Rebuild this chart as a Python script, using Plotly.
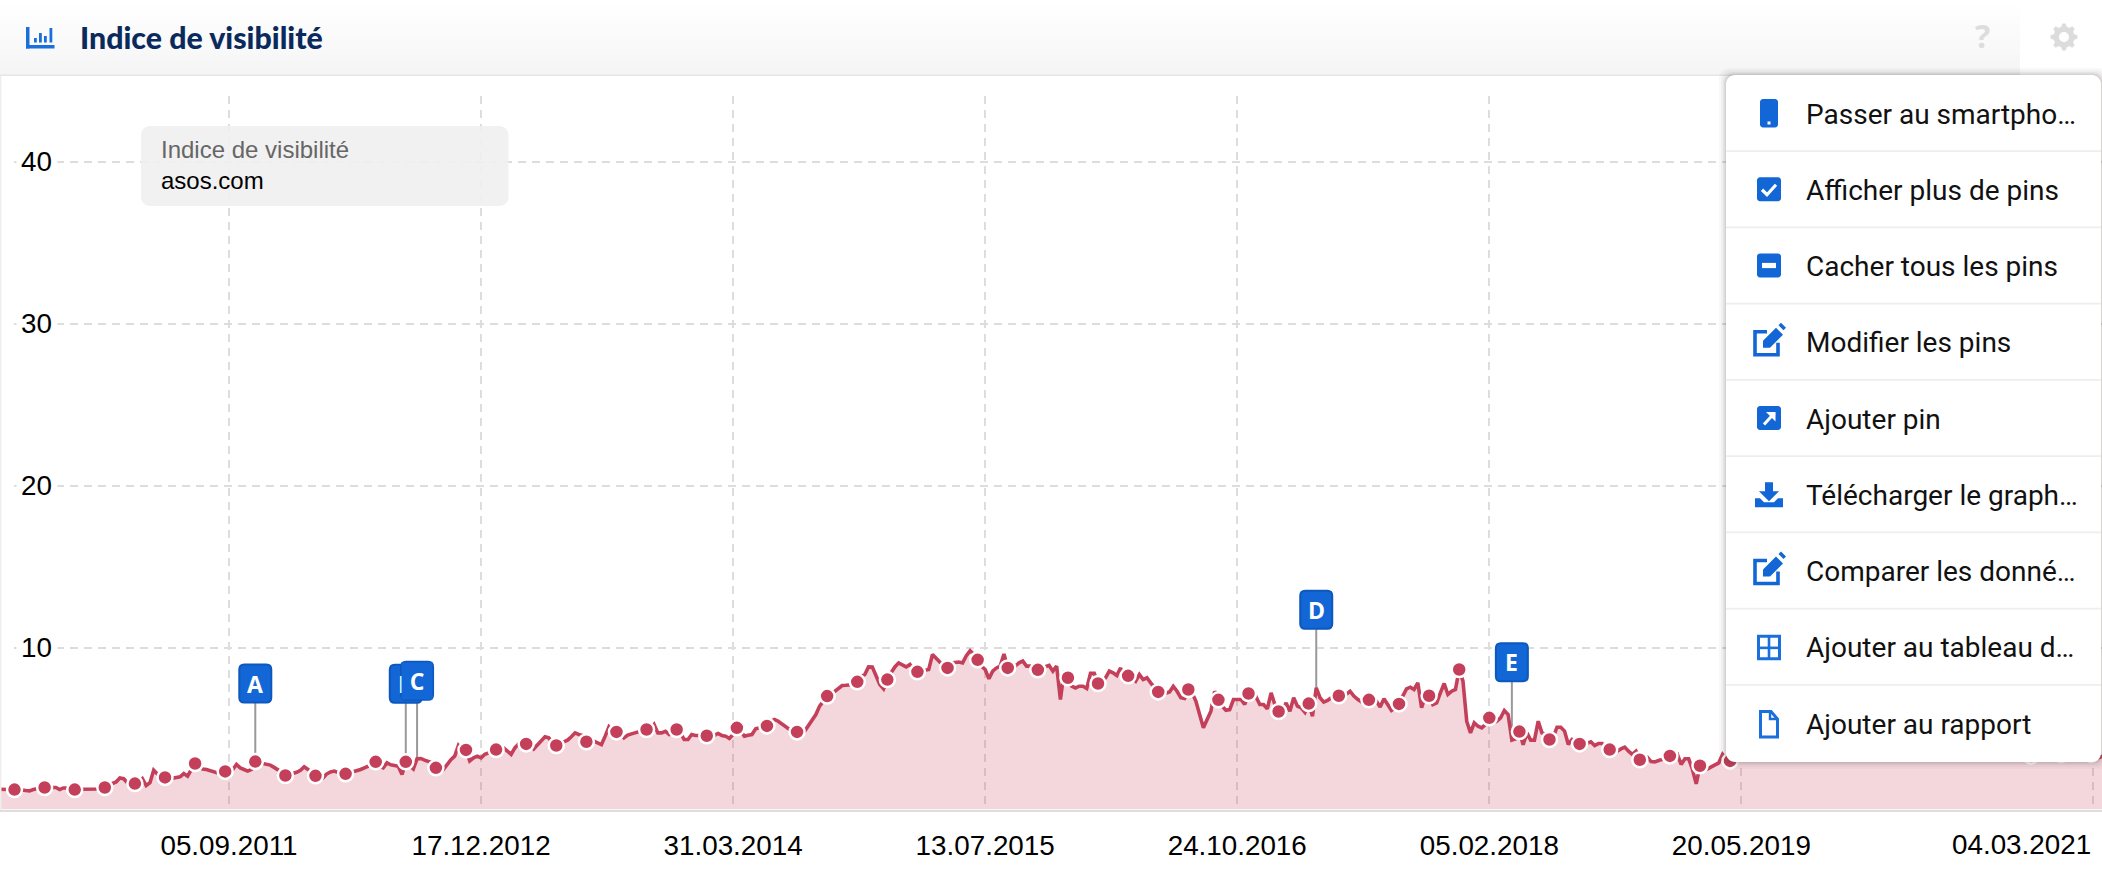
import math
import pandas as pd
import plotly.graph_objects as go

W, H = 2102, 874

FIRST_WEEK = "2010-07-05"
MARKER_START, MARKER_STEP = 4, 8

visibility = [
    1.25,1.25,1.25,1.25,1.23,
    1.23,1.2,1.17,1.15,1.23,1.3,1.33,1.36,
    1.36,1.36,1.36,1.23,1.33,1.33,1.3,1.23,
    1.25,1.25,1.25,1.25,1.25,1.27,1.33,1.36,
    1.5,1.6,1.7,1.95,1.9,1.65,1.6,1.6,
    1.65,1.9,1.48,1.65,2.43,2.16,1.95,1.98,
    1.9,1.93,1.95,2.02,2.22,2.06,2.47,2.84,
    2.67,2.5,2.47,2.4,2.3,2.26,2.3,2.35,
    2.26,2.47,2.78,2.57,2.47,2.37,2.47,2.96,
    2.88,2.82,2.78,2.74,2.6,2.47,2.3,2.1,
    2.16,2.26,2.3,2.42,2.63,2.47,2.26,2.08,
    1.95,1.95,2.2,2.32,2.37,2.26,2.2,2.2,
    2.26,2.32,2.37,2.47,2.57,2.67,2.88,2.94,
    2.67,2.57,2.88,2.76,2.72,2.67,2.16,2.94,
    2.7,2.5,3.13,3.15,3.05,2.98,2.88,2.57,
    2.26,2.47,2.78,3.08,3.29,3.95,3.7,3.68,
    3.0,3.19,3.29,3.19,3.4,3.5,3.6,3.7,
    3.75,3.8,3.6,3.4,3.8,4.05,4.1,4.05,
    3.95,3.74,4.0,4.3,4.49,4.42,4.1,3.95,
    4.1,4.18,4.28,4.49,4.73,4.63,4.57,4.18,
    4.3,4.22,4.1,4.0,4.53,5.1,4.83,4.79,
    4.7,4.42,4.59,4.67,4.73,4.77,4.83,4.94,
    4.94,5.25,4.73,4.73,4.83,4.63,4.83,4.94,
    4.73,4.32,4.32,4.63,4.57,4.57,4.55,4.55,
    4.57,4.57,4.69,4.57,4.53,4.38,4.63,5.04,
    4.83,4.53,4.59,4.63,4.98,5.04,5.1,5.16,
    5.45,5.56,5.45,5.29,5.08,4.94,4.83,4.79,
    4.73,4.83,5.19,5.45,5.86,6.38,6.69,7.0,
    7.1,7.3,7.51,7.65,7.67,7.67,7.72,7.88,
    8.2,8.33,8.8,8.79,8.23,7.72,7.45,8.02,
    8.44,8.8,9.05,8.9,8.8,8.95,8.64,8.5,
    8.58,8.6,8.64,9.57,9.36,9.09,8.85,8.74,
    9.05,9.1,9.1,9.05,9.5,9.8,9.57,9.24,
    8.85,8.64,8.07,8.54,8.74,8.85,9.6,8.74,
    8.85,8.85,9.05,9.16,8.85,8.85,8.74,8.62,
    8.74,8.8,8.89,8.54,8.85,6.79,8.54,8.13,
    7.61,7.5,7.61,7.61,7.47,8.4,8.4,7.78,
    7.92,8.13,8.54,8.44,8.27,8.74,7.86,8.25,
    8.13,7.92,8.33,8.02,8.13,7.82,7.51,7.26,
    7.1,7.2,7.26,7.6,7.3,6.9,6.85,7.41,
    7.2,6.69,5.76,5.04,5.56,6.07,7.3,6.77,
    6.38,6.13,6.17,6.79,6.79,6.79,6.48,7.16,
    6.9,6.95,6.48,6.48,6.21,7.2,6.48,6.05,
    6.1,6.58,6.07,6.9,6.38,6.28,6.0,6.54,
    5.76,7.51,6.9,6.63,6.73,6.9,6.95,7.02,
    7.0,7.1,7.3,7.0,6.8,6.65,6.69,6.77,
    6.69,6.69,6.32,6.83,6.48,6.11,6.28,6.52,
    7.0,7.45,7.55,7.41,7.82,6.28,7.0,7.02,
    6.48,6.58,7.2,7.78,7.1,7.3,7.41,8.64,
    7.92,5.45,4.73,5.35,5.14,5.04,5.25,5.66,
    5.35,5.45,5.66,6.11,5.86,4.28,4.36,4.81,
    4.0,4.73,4.28,4.28,5.45,4.73,4.63,4.32,
    4.47,5.08,5.08,4.84,4.01,4.32,4.22,4.05,
    4.0,4.12,4.18,3.95,4.07,4.07,3.9,3.7,
    3.7,3.6,3.74,3.85,3.6,3.4,3.6,3.07,
    3.25,3.23,2.96,2.94,3.02,3.09,3.25,3.31,
    3.3,3.4,2.78,3.13,3.13,2.47,1.58,2.7,
    2.47,2.5,2.63,2.78,2.88,3.4,3.09,3.0,
    # behind the menu: only the fill below the panel shows here
    3.2,3.3,3.2,3.4,3.5,3.4,3.6,3.5,
    3.4,3.6,3.7,3.5,3.6,3.8,3.7,3.6,
    3.8,3.9,3.7,3.8,4.0,3.9,3.8,3.7,
    3.9,4.0,4.1,3.9,3.8,3.9,4.1,4.0,
    4.2,4.1,3.9,4.0,4.2,4.3,4.1,4.0,
    4.1,4.3,4.2,4.0,3.9,4.1,4.2,4.0,
    3.9,3.8,4.0,4.1,3.9,3.8,3.9,4.0,
    3.8,3.7,3.9,3.8,3.7,3.6,3.8,3.9,
    3.7,3.6,3.8,3.7,3.5,3.6,3.7,3.5,
    3.4,3.6,3.5,3.4,3.5,3.6,3.4,3.3,
    3.5,3.4,3.3,3.4,3.5,3.3,3.2,3.4,
    3.3,3.2,3.3,3.4,3.3,3.2,3.3,3.4,
    3.3,3.2,3.3,
]

x_ticks = ["2011-09-05","2012-12-17","2014-03-31","2015-07-13","2016-10-24",
           "2018-02-05","2019-05-20","2021-03-04"]
x_labels = ["05.09.2011","17.12.2012","31.03.2014","13.07.2015","24.10.2016",
            "05.02.2018","20.05.2019",""]
last_label = "04.03.2021"
y_ticks = [10, 20, 30, 40]

pin_letters = ["A", "B", "C", "D", "E"]
pin_weeks = [68, 108, 111, 350, 402]

menu_items = ["Passer au smartpho…", "Afficher plus de pins", "Cacher tous les pins",
              "Modifier les pins", "Ajouter pin", "Télécharger le graph…",
              "Comparer les donné…", "Ajouter au tableau d…", "Ajouter au rapport"]

RED = "#c4405a"; FILL = "rgba(196,64,88,0.21)"; GRID = "#dddddd"; BLUE = "#1266d6"; BLUE_D = "#0d58bd"
INK = "#111111"; NAVY = "#0a2a5e"
TICK_FONT = dict(family="Liberation Sans, Arial", size=27.8, color="#000000")

dates = pd.date_range(FIRST_WEEK, periods=len(visibility), freq="7D")
mark_idx = list(range(MARKER_START, len(visibility), MARKER_STEP))

fig = go.Figure()
fig.add_trace(go.Scatter(x=dates, y=visibility, mode="lines", fill="tozeroy", fillcolor=FILL,
                         line=dict(color=RED, width=3.6), hoverinfo="skip", showlegend=False))
fig.add_trace(go.Scatter(x=dates[mark_idx], y=[visibility[i] for i in mark_idx], mode="markers",
                         marker=dict(color=RED, size=15, line=dict(color="#ffffff", width=2.5)),
                         hoverinfo="skip", showlegend=False))

# --- pixel helpers for the page furniture
def px(x): return x / W
def py(y): return 1 - y / H
def P(x, y): return f"{px(x):.5f},{py(y):.5f}"

def rr_path(x0, y0, x1, y1, r):
    """rounded rectangle in page pixels, as a paper-referenced path"""
    k = 0.45 * r
    return ("M" + P(x0 + r, y0) + " L" + P(x1 - r, y0) +
            " C" + P(x1 - k, y0) + " " + P(x1, y0 + k) + " " + P(x1, y0 + r) +
            " L" + P(x1, y1 - r) +
            " C" + P(x1, y1 - k) + " " + P(x1 - k, y1) + " " + P(x1 - r, y1) +
            " L" + P(x0 + r, y1) +
            " C" + P(x0 + k, y1) + " " + P(x0, y1 - k) + " " + P(x0, y1 - r) +
            " L" + P(x0, y0 + r) +
            " C" + P(x0, y0 + k) + " " + P(x0 + k, y0) + " " + P(x0 + r, y0) + " Z")

def poly(points, close=True):
    s = "M" + " L".join(P(a, b) for a, b in points)
    return s + (" Z" if close else "")

shapes = []
def paper_shape(path, fill=None, line=None, lw=0, layer="above"):
    shapes.append(dict(type="path", xref="paper", yref="paper", path=path, layer=layer,
                       fillcolor=fill if fill else "rgba(0,0,0,0)",
                       line=dict(color=line if line else "rgba(0,0,0,0)", width=lw)))
def rect(x0, y0, x1, y1, fill, layer="above"):
    paper_shape(poly([(x0, y0), (x1, y0), (x1, y1), (x0, y1)]), fill=fill, layer=layer)

# left page edge
rect(0, 0, 1.5, 810, "#eeeeee")

# header band (vertical fade)
BANDS = 15
for b in range(BANDS):
    t = b / (BANDS - 1)
    c = int(round(255 - 10 * t))
    rect(0, 5 * b, 2020, 5 * (b + 1), f"rgb({c},{c},{c})")
rect(0, 74.5, 2020, 76, "#e6e6e6")

# masks behind the y tick labels, tied to the axis
def mask(v, x0, x1):
    shapes.append(dict(type="rect", xref="x", yref="y", xsizemode="pixel", ysizemode="pixel",
                       xanchor=FIRST_WEEK, yanchor=v, x0=x0, x1=x1, y0=-4, y1=4,
                       layer="between", fillcolor="#ffffff", line=dict(width=0)))
for v in y_ticks:
    mask(v, -1, 11)
    mask(v, 17, 58)

# pins
for letter, wk in zip(pin_letters, pin_weeks):
    d = str(dates[wk].date()); v = visibility[wk]
    shapes.append(dict(type="line", xref="x", yref="y", xsizemode="pixel", ysizemode="pixel",
                       xanchor=d, yanchor=v, x0=0, x1=0, y0=0, y1=59, layer="between",
                       line=dict(color="#999999", width=2)))
    r = 5; hw = 16; b = 59; t = 97
    shapes.append(dict(type="path", xref="x", yref="y", xsizemode="pixel", ysizemode="pixel",
                       xanchor=d, yanchor=v, layer="above", fillcolor=BLUE,
                       line=dict(color=BLUE_D, width=2),
                       path=f"M{-hw+r},{t} L{hw-r},{t} Q{hw},{t} {hw},{t-r} L{hw},{b+r} Q{hw},{b} {hw-r},{b} "
                            f"L{-hw+r},{b} Q{-hw},{b} {-hw},{b+r} L{-hw},{t-r} Q{-hw},{t} {-hw+r},{t} Z"))

# legend chip
paper_shape(rr_path(141, 126, 508.5, 206, 9), fill="rgba(240,240,240,0.9)")

# chart icon in header
HB = "#1a6fdc"
rect(26, 45, 54.5, 48.5, HB); rect(26, 27, 29.5, 48.5, HB)
for bx, by in [(34, 38), (39, 33), (44, 36), (49.5, 28)]:
    rect(bx, by, bx + 2.8, 42.5, HB)

# gear
gear = []
for i in range(48):
    a = 2 * math.pi * i / 48
    tooth = ((i + 1) % 6) < 3
    rad = 13.5 if tooth else 10.5
    gear.append((2064 + rad * math.cos(a), 37 + rad * math.sin(a)))
paper_shape(poly(gear), fill="#dcdcdc")
paper_shape(rr_path(2059, 32, 2069, 42, 5), fill="#ffffff")

# menu panel with soft shadow
for grow, alpha in [(7, 0.03), (5, 0.04), (3, 0.06), (1.5, 0.09)]:
    paper_shape(rr_path(1726 - grow, 75 - grow, 2101 + grow, 762 + grow, 10), fill=f"rgba(60,40,40,{alpha})")
paper_shape(rr_path(1726, 75, 2101, 762, 9), fill="#ffffff")
ROWS = [113 + 76.25 * i for i in range(9)]
for i in range(1, 9):
    rect(1726, ROWS[i] - 38.1 - 0.8, 2101, ROWS[i] - 38.1 + 0.8, "#eeeeee")

def edit_icon(cy):
    paper_shape(poly([(1767, cy - 10), (1755, cy - 10), (1755, cy + 13), (1778, cy + 13), (1778, cy + 1)], close=False),
                line=BLUE, lw=3.6)
    paper_shape(poly([(1763, cy - 1), (1776, cy - 14), (1783, cy - 7), (1770, cy + 6), (1763, cy + 6)]), fill=BLUE)
    paper_shape(poly([(1778.5, cy - 16.5), (1781, cy - 19), (1786, cy - 14), (1783.5, cy - 11.5)]), fill=BLUE)

# phone
paper_shape(rr_path(1760, 99, 1778, 127.5, 3), fill=BLUE)
rect(1767.5, 121.5, 1770.5, 124.5, "#ffffff")
# check box
paper_shape(rr_path(1757, ROWS[1] - 12, 1781, ROWS[1] + 12, 3), fill=BLUE)
paper_shape(poly([(1762, ROWS[1] + 0.5), (1767, ROWS[1] + 5.5), (1776, ROWS[1] - 4.5)], close=False), line="#ffffff", lw=3.2)
# minus box
paper_shape(rr_path(1757, ROWS[2] - 12, 1781, ROWS[2] + 12, 3), fill=BLUE)
rect(1762, ROWS[2] - 2.6, 1776, ROWS[2] + 2.6, "#ffffff")
# edit
edit_icon(ROWS[3])
# arrow box
paper_shape(rr_path(1757, ROWS[4] - 12, 1781, ROWS[4] + 12, 3), fill=BLUE)
paper_shape(poly([(1764, ROWS[4] + 6.5), (1774.5, ROWS[4] - 5)], close=False), line="#ffffff", lw=3)
paper_shape(poly([(1766, ROWS[4] - 6), (1775.5, ROWS[4] - 6), (1775.5, ROWS[4] + 3.5)]), fill="#ffffff")
# download
c = ROWS[5]
paper_shape(poly([(1765, c - 12), (1773, c - 12), (1773, c - 3), (1779, c - 3), (1769, c + 7), (1759, c - 3), (1765, c - 3)]), fill=BLUE)
paper_shape(poly([(1755, c + 4), (1760, c + 4), (1764, c + 8), (1774, c + 8), (1778, c + 4), (1783, c + 4), (1783, c + 13), (1755, c + 13)]), fill=BLUE)
# compare
edit_icon(ROWS[6])
# grid
c = ROWS[7]
paper_shape(poly([(1758.5, c - 10.5), (1779.5, c - 10.5), (1779.5, c + 12), (1758.5, c + 12)]), line=HB, lw=3)
rect(1767.7, c - 10.5, 1770.3, c + 12, HB); rect(1758.5, c - 0.2, 1779.5, c + 2.4, HB)
# document
c = ROWS[8]
paper_shape(poly([(1760.5, c - 11.5), (1771, c - 11.5), (1777.5, c - 4), (1777.5, c + 14), (1760.5, c + 14)]), line=HB, lw=3)
paper_shape(poly([(1770, c - 11), (1770, c - 4), (1777, c - 4)], close=False), line=HB, lw=2.4)

# --- text
ann = []
def page_text(x, y, text, font, xanchor="left"):
    ann.append(dict(xref="paper", yref="paper", x=px(x), y=py(y), text=text, showarrow=False,
                    xanchor=xanchor, yanchor="middle", font=font))

page_text(78, 36.5, "Indice de visibilité", dict(family="Lato", size=30.3, color=NAVY, weight=900))
page_text(1982, 36, "?", dict(family="Open Sans", size=32, color="#dddddd", weight=700), "center")
page_text(158.5, 149.5, "Indice de visibilité", dict(family="Liberation Sans, Arial", size=24, color="#666666"))
page_text(158.5, 180, "asos.com", dict(family="Liberation Sans, Arial", size=24, color="#000000"))
for txt, cy in zip(menu_items, ROWS):
    page_text(1803.5, cy + 1.2, txt, dict(family="Roboto", size=28, color=INK))

# last tick label cannot overflow the page, so it is right-aligned on its tick
ann.append(dict(xref="x", yref="paper", x=x_ticks[-1], y=py(844), xshift=0, text=last_label,
                showarrow=False, xanchor="right", yanchor="middle", font=TICK_FONT))

# pin letters; C carries a blue plate which hides the overlapped B, as in the picture
for letter, wk in zip(pin_letters, pin_weeks):
    a = dict(xref="x", yref="y", x=dates[wk], y=visibility[wk], yshift=78, text=f"<b>{letter}</b>",
             showarrow=False, xanchor="center", yanchor="middle",
             font=dict(family="Open Sans", size=23, color="#ffffff"))
    if letter == "C":
        a.update(bgcolor=BLUE, width=28, height=34)
    ann.append(a)

BASE = 809.5
fig.update_layout(
    width=W, height=H, autosize=False,
    margin=dict(l=0, r=0, t=0, b=0),
    paper_bgcolor="#ffffff", plot_bgcolor="rgba(0,0,0,0)",
    showlegend=False, hovermode=False,
    shapes=shapes, annotations=ann,
    xaxis=dict(type="date", range=["2010-07-06", "2021-03-21"], domain=[0, 1],
               tickmode="array", tickvals=x_ticks, ticktext=x_labels,
               showgrid=True, gridcolor=GRID, gridwidth=2, griddash="8px,6px",
               showline=True, linecolor="#dedede", linewidth=2,
               ticks="outside", ticklen=10, tickcolor="rgba(0,0,0,0)", tickfont=TICK_FONT,
               zeroline=False, fixedrange=True),
    yaxis=dict(range=[0, (BASE - 96) / 16.2], domain=[(H - BASE) / H, (H - 96) / H],
               tickmode="array", tickvals=y_ticks, ticktext=[str(v) for v in y_ticks],
               ticklabelposition="inside", ticklabelstandoff=18,
               showgrid=True, gridcolor=GRID, gridwidth=2, griddash="8px,6px",
               showline=False, zeroline=False, ticks="", tickfont=TICK_FONT, fixedrange=True),
)

fig.write_html("out.html", config=dict(displayModeBar=False),
               post_script="document.body.style.margin='0';document.body.style.overflow='hidden';")
